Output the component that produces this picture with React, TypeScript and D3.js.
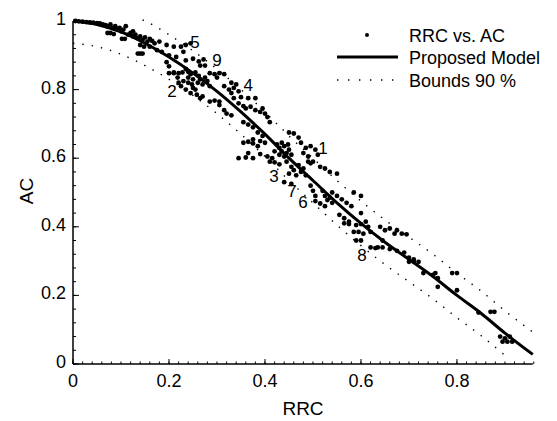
import React from "react";
import * as d3 from "d3";

// Model curve (RRC, AC)
const modelX = [0, 0.05, 0.1, 0.15, 0.2, 0.25, 0.3, 0.35, 0.4, 0.45, 0.5, 0.55, 0.6, 0.65, 0.7, 0.75, 0.8, 0.85, 0.9, 0.958];
const modelY = [1.0, 0.99, 0.968, 0.935, 0.895, 0.848, 0.795, 0.735, 0.67, 0.6, 0.535, 0.47, 0.41, 0.355, 0.305, 0.255, 0.2, 0.148, 0.09, 0.028];
// 90% bounds
const upperX = [0.145, 0.15, 0.2, 0.25, 0.3, 0.35, 0.4, 0.45, 0.5, 0.55, 0.6, 0.65, 0.7, 0.75, 0.8, 0.85, 0.9, 0.958];
const upperY = [1.003, 1.0, 0.96, 0.913, 0.86, 0.8, 0.735, 0.665, 0.6, 0.535, 0.475, 0.42, 0.37, 0.32, 0.265, 0.213, 0.155, 0.093];
const lowerX = [0, 0.05, 0.1, 0.15, 0.2, 0.25, 0.3, 0.35, 0.4, 0.45, 0.5, 0.55, 0.6, 0.65, 0.7, 0.75, 0.8, 0.85, 0.9];
const lowerY = [0.935, 0.925, 0.903, 0.87, 0.83, 0.783, 0.73, 0.67, 0.605, 0.535, 0.47, 0.405, 0.345, 0.29, 0.24, 0.19, 0.135, 0.083, 0.025];

// Measured points RRC vs. AC
const pointsRRC = [
  0.005, 0.012, 0.02, 0.028, 0.035, 0.042, 0.05, 0.056, 0.062, 0.068, 0.072, 0.078, 0.083, 0.088, 0.092, 0.097, 0.1, 0.105,
  0.072, 0.078, 0.085, 0.108, 0.102, 0.115, 0.12, 0.125, 0.13, 0.135, 0.14, 0.145, 0.15, 0.155, 0.16, 0.165, 0.14, 0.148,
  0.135, 0.14, 0.145, 0.16, 0.175, 0.185, 0.195, 0.21, 0.2, 0.215, 0.195, 0.2, 0.21, 0.218, 0.22, 0.18, 0.17, 0.125, 0.11,
  0.225, 0.235, 0.245, 0.23,
  0.235, 0.25, 0.262, 0.272, 0.265, 0.275,
  0.2, 0.21, 0.22, 0.228, 0.24,
  0.235, 0.24, 0.245, 0.25, 0.255, 0.26, 0.262, 0.265, 0.27, 0.275, 0.28, 0.285, 0.248, 0.255, 0.24, 0.23, 0.225, 0.235, 0.245, 0.25,
  0.285, 0.295, 0.305, 0.315, 0.3,
  0.258, 0.265, 0.27,
  0.285, 0.295, 0.305,
  0.315, 0.325, 0.335, 0.345, 0.33,
  0.335, 0.35, 0.365, 0.38,
  0.345, 0.355, 0.36, 0.37, 0.38, 0.39,
  0.395, 0.405, 0.41, 0.4,
  0.355, 0.365, 0.375,
  0.305, 0.315, 0.32, 0.33,
  0.355, 0.365, 0.375, 0.39, 0.4,
  0.385, 0.395,
  0.345, 0.36, 0.375, 0.365,
  0.33, 0.34,
  0.375, 0.385,
  0.45, 0.46, 0.47,
  0.425, 0.43, 0.435, 0.44, 0.445, 0.45, 0.455, 0.44, 0.43, 0.42, 0.435, 0.448,
  0.475, 0.485, 0.495, 0.505, 0.51, 0.48, 0.49,
  0.39, 0.405, 0.415,
  0.41, 0.42, 0.43,
  0.445, 0.455, 0.46, 0.47, 0.475, 0.48, 0.465, 0.485, 0.49, 0.495, 0.5, 0.45,
  0.515, 0.525, 0.535, 0.55,
  0.44, 0.455,
  0.495, 0.5, 0.505,
  0.52, 0.525, 0.53, 0.535,
  0.505, 0.515, 0.525,
  0.54, 0.55, 0.56, 0.57, 0.58, 0.54,
  0.585, 0.6,
  0.555, 0.565, 0.575,
  0.6,
  0.565, 0.575, 0.59, 0.6,
  0.61, 0.615, 0.62,
  0.585, 0.595, 0.605,
  0.59, 0.6,
  0.64, 0.65, 0.66, 0.67, 0.675,
  0.685, 0.695,
  0.62, 0.63, 0.635,
  0.645,
  0.645, 0.66, 0.675,
  0.69, 0.7, 0.71,
  0.7, 0.71, 0.72,
  0.73, 0.75, 0.755,
  0.76, 0.79, 0.8, 0.76, 0.8, 0.845, 0.87, 0.878,
  0.89, 0.9, 0.91, 0.895, 0.905, 0.915,
];
const pointsAC = [
  1.0, 0.999, 0.998, 0.997, 0.996, 0.995, 0.994, 0.993, 0.99, 0.988, 0.984, 0.99, 0.98, 0.985, 0.975, 0.98, 0.97, 0.975,
  0.965, 0.965, 0.962, 0.948, 0.948, 0.96, 0.965, 0.955, 0.96, 0.95, 0.955, 0.945, 0.952, 0.94, 0.948, 0.942, 0.93, 0.925,
  0.905, 0.905, 0.905, 0.925, 0.915, 0.91, 0.93, 0.925, 0.9, 0.895, 0.88, 0.868, 0.85, 0.835, 0.82, 0.94, 0.935, 0.97, 0.985,
  0.925, 0.93, 0.935, 0.91,
  0.885, 0.89, 0.882, 0.888, 0.87, 0.87,
  0.848, 0.848, 0.848, 0.85, 0.852,
  0.86, 0.835, 0.845, 0.83, 0.85, 0.82, 0.84, 0.83, 0.815, 0.835, 0.825, 0.81, 0.815, 0.8, 0.82, 0.825, 0.81, 0.8, 0.79, 0.805,
  0.848, 0.845, 0.848, 0.845, 0.835,
  0.785, 0.775, 0.78,
  0.765, 0.768, 0.765,
  0.81, 0.8, 0.805, 0.795, 0.79,
  0.775, 0.778, 0.775, 0.775,
  0.76, 0.752, 0.745, 0.75, 0.74, 0.735,
  0.745, 0.72, 0.705, 0.73,
  0.705, 0.698, 0.69,
  0.755, 0.74, 0.73, 0.725,
  0.645, 0.648, 0.643, 0.65, 0.645,
  0.675, 0.665,
  0.6, 0.602, 0.6, 0.615,
  0.82, 0.815,
  0.655, 0.635,
  0.675, 0.672, 0.66,
  0.64, 0.63, 0.62, 0.635, 0.615, 0.625, 0.61, 0.605, 0.61, 0.62, 0.645, 0.64,
  0.645, 0.63, 0.635, 0.625, 0.61, 0.615, 0.605,
  0.612, 0.605, 0.6,
  0.59, 0.588, 0.582,
  0.59, 0.575, 0.565, 0.58, 0.56, 0.57, 0.55, 0.55, 0.59, 0.585, 0.59, 0.555,
  0.575, 0.57, 0.56, 0.555,
  0.53, 0.525,
  0.52, 0.505, 0.49,
  0.505, 0.49, 0.478, 0.485,
  0.475, 0.468, 0.46,
  0.5, 0.49, 0.48, 0.47, 0.46, 0.47,
  0.5, 0.49,
  0.435, 0.425, 0.415,
  0.44,
  0.41, 0.408, 0.405, 0.408,
  0.415, 0.4, 0.385,
  0.385, 0.385, 0.38,
  0.36, 0.36,
  0.4, 0.39, 0.395, 0.38, 0.39,
  0.38, 0.378,
  0.34, 0.338, 0.34,
  0.36,
  0.34, 0.335, 0.33,
  0.325, 0.31, 0.305,
  0.298, 0.298, 0.298,
  0.265, 0.26, 0.265,
  0.25, 0.265, 0.265, 0.225, 0.215, 0.15, 0.152, 0.152,
  0.08, 0.075, 0.08, 0.065, 0.065, 0.065,
];

// Annotation labels
const labelText = ["5", "9", "2", "4", "1", "3", "7", "6", "8"];
const labelRRC = [0.254, 0.3, 0.206, 0.365, 0.521, 0.419, 0.456, 0.479, 0.602];
const labelAC = [0.921, 0.869, 0.778, 0.796, 0.612, 0.531, 0.487, 0.455, 0.3];

const xTicks = [0, 0.2, 0.4, 0.6, 0.8];
const xTickLabels = ["0", "0.2", "0.4", "0.6", "0.8"];
const yTicks = [0, 0.2, 0.4, 0.6, 0.8, 1];
const yTickLabels = ["0", "0.2", "0.4", "0.6", "0.8", "1"];

const legendLabels = ["RRC vs. AC", "Proposed Model", "Bounds 90 %"];

const W = 557;
const H = 421;
const FONT = "Arial, 'Liberation Sans', Helvetica, sans-serif";

export default function App() {
  const x = d3.scaleLinear().domain([0, 0.958]).range([73, 532.8]);
  const y = d3.scaleLinear().domain([0, 1]).range([364, 21]);

  const line = d3
    .line<[number, number]>()
    .x((d) => x(d[0]))
    .y((d) => y(d[1]))
    .curve(d3.curveMonotoneX);

  const model = modelX.map((v, i) => [v, modelY[i]] as [number, number]);
  const upper = upperX.map((v, i) => [v, upperY[i]] as [number, number]);
  const lower = lowerX.map((v, i) => [v, lowerY[i]] as [number, number]);

  const xMinor = d3.range(0, 0.9601, 0.02);
  const yMinor = d3.range(0, 1.0001, 0.04);

  return (
    <svg
      width={W}
      height={H}
      style={{ position: "absolute", left: 0, top: 0, background: "#fff" }}
      fontFamily={FONT}
    >
      <rect x={0} y={0} width={W} height={H} fill="#fff" />
      {/* bounds */}
      <path d={line(upper) || ""} fill="none" stroke="#000" strokeWidth={1.4} strokeDasharray="1.4 8" />
      <path d={line(lower) || ""} fill="none" stroke="#000" strokeWidth={1.4} strokeDasharray="1.4 8" />
      {/* points */}
      {pointsRRC.map((v, i) => (
        <circle key={i} cx={x(v)} cy={y(pointsAC[i])} r={2.4} fill="#000" />
      ))}
      {/* model */}
      <path d={line(model) || ""} fill="none" stroke="#000" strokeWidth={3} />

      {/* axes */}
      <line x1={x(0)} x2={x(0.958)} y1={y(0)} y2={y(0)} stroke="#000" strokeWidth={1.5} />
      <line x1={x(0)} x2={x(0)} y1={y(0)} y2={y(1)} stroke="#000" strokeWidth={1.5} />
      {xMinor.map((v, i) => (
        <line key={"xm" + i} x1={x(v)} x2={x(v)} y1={y(0)} y2={y(0) - 2.5} stroke="#000" strokeWidth={1} />
      ))}
      {xTicks.map((v, i) => (
        <g key={"xt" + i}>
          <line x1={x(v)} x2={x(v)} y1={y(0)} y2={y(0) - 5} stroke="#000" strokeWidth={1} />
          <text x={x(v)} y={387} textAnchor="middle" fontSize={18}>
            {xTickLabels[i]}
          </text>
        </g>
      ))}
      {yMinor.map((v, i) => (
        <line key={"ym" + i} x1={x(0)} x2={x(0) + 3} y1={y(v)} y2={y(v)} stroke="#000" strokeWidth={1} />
      ))}
      {yTicks.map((v, i) => (
        <g key={"yt" + i}>
          <line x1={x(0)} x2={x(0) + 6} y1={y(v)} y2={y(v)} stroke="#000" strokeWidth={1} />
          <text x={66} y={y(v) + 4} textAnchor="end" fontSize={18}>
            {yTickLabels[i]}
          </text>
        </g>
      ))}
      <text x={303} y={415} textAnchor="middle" fontSize={19}>
        RRC
      </text>
      <text transform="translate(33,191) rotate(-90)" textAnchor="middle" fontSize={19}>
        AC
      </text>

      {/* annotations */}
      {labelText.map((t, i) => (
        <text key={"lb" + i} x={x(labelRRC[i])} y={y(labelAC[i])} fontSize={17} textAnchor="middle">
          {t}
        </text>
      ))}

      {/* legend */}
      <circle cx={367} cy={35} r={2} fill="#000" />
      <text x={409} y={41.5} fontSize={18}>
        {legendLabels[0]}
      </text>
      <line x1={337} x2={398} y1={57} y2={57} stroke="#000" strokeWidth={3} />
      <text x={409} y={63.5} fontSize={18}>
        {legendLabels[1]}
      </text>
      <line x1={337} x2={398} y1={80} y2={80} stroke="#000" strokeWidth={1.4} strokeDasharray="1.4 9.6" />
      <text x={409} y={86.5} fontSize={18}>
        {legendLabels[2]}
      </text>
    </svg>
  );
}
